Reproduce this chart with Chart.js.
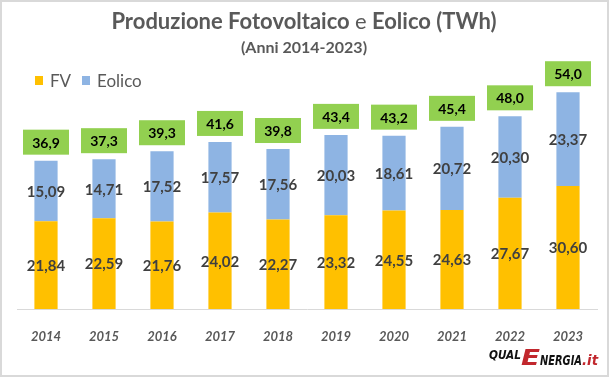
<!DOCTYPE html>
<html>
<head>
<meta charset="utf-8">
<script src="https://cdn.jsdelivr.net/npm/chart.js@4/dist/chart.umd.min.js"></script>
<style>
  html, body { margin: 0; padding: 0; background: #fff; }
  canvas { display: block; }
</style>
</head>
<body>
<canvas id="fveChart" width="609" height="377"></canvas>
<script>
// dati
var anni = ["2014", "2015", "2016", "2017", "2018", "2019", "2020", "2021", "2022", "2023"];
var fv = [21.84, 22.59, 21.76, 24.02, 22.27, 23.32, 24.55, 24.63, 27.67, 30.60];
var eolico = [15.09, 14.71, 17.52, 17.57, 17.56, 20.03, 18.61, 20.72, 20.30, 23.37];
var totali = [36.9, 37.3, 39.3, 41.6, 39.8, 43.4, 43.2, 45.4, 48.0, 54.0];

var grigio = "#595959";

function virgola(v, dec) {
  return v.toFixed(dec).replace(".", ",");
}

// titolo, legenda, etichette, logo e cornice
var decorazioni = {
  id: "decorazioni",
  afterDatasetsDraw: function (chart) {
    var ctx = chart.ctx;
    ctx.save();

    // etichette dentro le barre
    ctx.textAlign = "center";
    ctx.textBaseline = "middle";
    ctx.font = "bold 15px Lato";
    ctx.fillStyle = "#404040";
    chart.data.datasets.forEach(function (ds, i) {
      var meta = chart.getDatasetMeta(i);
      meta.data.forEach(function (bar, j) {
        var mid = (bar.y + bar.base) / 2;
        ctx.fillText(virgola(ds.data[j], 2), bar.x, mid + 1);
      });
    });

    // totali nei riquadri verdi
    var top = chart.getDatasetMeta(1);
    ctx.font = "bold 14px Lato";
    top.data.forEach(function (bar, j) {
      var w = 46, h = 25;
      var bottom = bar.y - 6;
      ctx.fillStyle = "#92D050";
      ctx.fillRect(bar.x - w / 2, bottom - h, w, h);
      ctx.fillStyle = "#000";
      ctx.fillText(virgola(totali[j], 1), bar.x, bottom - h / 2 + 1);
    });

    // titolo
    ctx.fillStyle = grigio;
    ctx.textBaseline = "alphabetic";
    ctx.textAlign = "left";
    var parti = [
      ["bold 22px Lato", "Produzione Fotovoltaico "],
      ["22px Lato", "e"],
      ["bold 22px Lato", " Eolico (TWh)"]
    ];
    var totW = 0;
    parti.forEach(function (p) { ctx.font = p[0]; totW += ctx.measureText(p[1]).width; });
    var x = 304 - totW / 2;
    parti.forEach(function (p) {
      ctx.font = p[0];
      ctx.fillText(p[1], x, 29);
      x += ctx.measureText(p[1]).width;
    });
    ctx.textAlign = "center";
    ctx.font = "bold 16px Lato";
    ctx.fillText("(Anni 2014-2023)", 304, 53);

    // legenda
    ctx.textAlign = "left";
    ctx.font = "17px Lato";
    ctx.fillStyle = "#FFC000";
    ctx.fillRect(35, 76, 8, 9);
    ctx.fillStyle = grigio;
    ctx.fillText("FV", 50, 87);
    ctx.fillStyle = "#8EB4E3";
    ctx.fillRect(82, 76, 8, 9);
    ctx.fillStyle = grigio;
    ctx.fillText("Eolico", 97, 87);

    // logo QualEnergia
    function pezzo(testo, font, colore, x0, x1, y) {
      ctx.font = font;
      var m = ctx.measureText(testo).width;
      ctx.save();
      ctx.translate(x0, y);
      ctx.scale((x1 - x0) / m, 1);
      ctx.fillStyle = colore;
      ctx.fillText(testo, 0, 0);
      ctx.restore();
    }
    pezzo("QUAL", "oblique bold 13px 'DejaVu Sans'", "#111", 489, 521, 359);
    pezzo("E", "oblique bold 22px 'DejaVu Sans'", "#C1272D", 521, 540, 365);
    pezzo("NERGIA", "oblique bold 14px 'DejaVu Sans'", "#111", 540, 582, 365);
    pezzo(".it", "oblique bold 14px 'DejaVu Sans'", "#C1272D", 582, 598, 365);

    // cornice
    ctx.strokeStyle = "#d9d9d9";
    ctx.lineWidth = 2;
    ctx.strokeRect(1, 1, 607, 375);

    ctx.restore();
  }
};

var ctx = document.getElementById("fveChart").getContext("2d");
var chart = new Chart(ctx, {
  type: "bar",
  data: {
    labels: anni,
    datasets: [
      { label: "FV", data: fv, backgroundColor: "#FFC000" },
      { label: "Eolico", data: eolico, backgroundColor: "#8EB4E3" }
    ]
  },
  options: {
    responsive: false,
    devicePixelRatio: 1,
    animation: false,
    categoryPercentage: 0.8,
    barPercentage: 0.5,
    layout: { padding: { left: 17, right: 12, top: 68, bottom: 0 } },
    scales: {
      x: {
        stacked: true,
        grid: { display: false },
        border: { color: "#d9d9d9", width: 1 },
        ticks: {
          color: grigio,
          padding: 12,
          font: { family: "Lato", size: 13, style: "italic", weight: "bold" }
        },
        afterFit: function (scale) { scale.height = 68; }
      },
      y: {
        stacked: true,
        display: false,
        min: 0,
        max: 60
      }
    },
    plugins: {
      legend: { display: false },
      tooltip: { enabled: false }
    }
  },
  plugins: [decorazioni]
});
</script>
</body>
</html>
